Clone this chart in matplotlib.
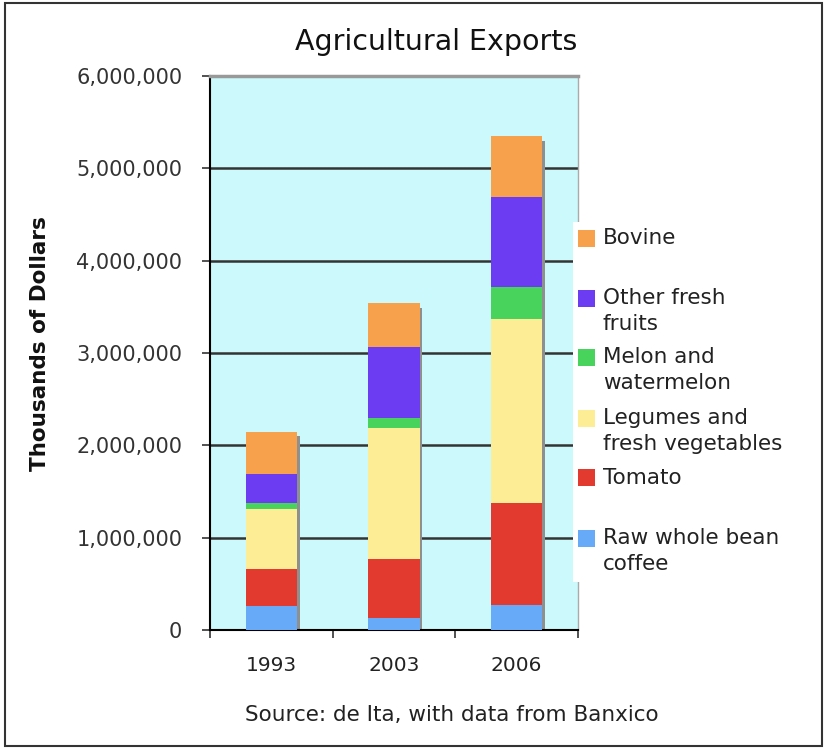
import matplotlib
matplotlib.use("Agg")
import matplotlib.pyplot as plt
from matplotlib.patches import Rectangle
from matplotlib.ticker import FuncFormatter, FixedLocator
import numpy as np

# ------------------------------------------------------------------ data (thousands of USD)
years = ["1993", "2003", "2006"]
coffee = [260000, 127000, 271000]
tomato = [401000, 642000, 1101000]
legumes = [646000, 1416000, 2000000]
melon = [72000, 108000, 346000]
other_fruits = [311000, 769000, 975000]
bovine = [458000, 476000, 657000]

# bottom -> top stacking order
series = [coffee, tomato, legumes, melon, other_fruits, bovine]
colors = ["#66aaf8", "#e23a2e", "#fdee96", "#48d45c", "#6c3cf2", "#f8a14c"]
labels = ["Raw whole bean\ncoffee", "Tomato", "Legumes and\nfresh vegetables",
          "Melon and\nwatermelon", "Other fresh\nfruits", "Bovine"]

W, H = 828, 750
fig = plt.figure(figsize=(W / 100, H / 100), dpi=100)
plt.rcParams["font.family"] = ["DejaVu Sans"]


def px(x, y):
    """pixel (from top-left) -> figure fraction"""
    return x / W, 1 - y / H


x0, y0 = px(210, 630)
x1, y1 = px(578, 76)
ax = fig.add_axes([x0, y0, x1 - x0, y1 - y0])
ax.set_facecolor("#ccf9fb")

x = np.arange(len(years))
width = 0.42
totals = np.sum(series, axis=0)

# depth shadow behind each stack
ax.bar(x + 0.022, totals - 50000, width, color="#8f8f8f", zorder=2)

bottom = np.zeros(len(years))
for vals, col in zip(series, colors):
    ax.bar(x, vals, width, bottom=bottom, color=col, zorder=3, linewidth=0)
    bottom += vals

ax.set_xlim(-0.5, 2.5)
ax.set_ylim(0, 6000000)
ax.set_yticks(np.arange(0, 6000001, 1000000))
ax.yaxis.set_major_formatter(FuncFormatter(lambda v, _: f"{v:,.0f}"))
ax.yaxis.grid(True, color="#333333", lw=1.8, zorder=1)
ax.set_axisbelow(True)

ax.set_xticks(x)
ax.set_xticklabels(years)
ax.xaxis.set_minor_locator(FixedLocator([-0.5, 0.5, 1.5, 2.5]))
ax.tick_params(axis="x", which="major", length=0, pad=19, labelsize=14.5,
               labelcolor="#222222")
ax.tick_params(axis="x", which="minor", length=6, width=1.2, direction="out",
               color="#333333")
ax.tick_params(axis="y", length=6, width=1.2, direction="out", pad=14,
               labelsize=15, labelcolor="#333333", color="#333333")

for side in ("left", "bottom"):
    ax.spines[side].set_color("black")
    ax.spines[side].set_linewidth(1.5)
ax.spines["top"].set_color("#999999")
ax.spines["top"].set_linewidth(2.5)
ax.spines["right"].set_color("#aaaaaa")
ax.spines["right"].set_linewidth(1.0)

# titles and notes
fig.text(*px(436, 42), "Agricultural Exports", ha="center", va="center",
         fontsize=20.5, color="#111111")
fig.text(*px(40, 344), "Thousands of Dollars", ha="center", va="center",
         rotation=90, fontsize=15.5, fontweight="bold", color="#111111")
fig.text(*px(452, 715), "Source: de Ita, with data from Banxico",
         ha="center", va="center", fontsize=15.5, color="#222222")

# legend box, drawn by hand (top entry = top of stack)
lx, ly = px(573, 582)
lw_, lh_ = 820 / W - lx, (582 - 222) / H
fig.add_artist(Rectangle((lx, ly), lw_, lh_, transform=fig.transFigure,
                         facecolor="white", edgecolor="none", zorder=5))
entry_y = [538, 478, 418, 357, 298, 238]
for lab, col, ey in zip(labels, colors, entry_y):
    fig.add_artist(Rectangle(px(578, ey + 8.5), 17 / W, 17 / H,
                             transform=fig.transFigure, facecolor=col,
                             edgecolor="none", zorder=6))
    fig.text(*px(603, ey - 10), lab, ha="left", va="top", fontsize=15.5,
             linespacing=1.4, color="#222222", zorder=7)

# outer frame
fig.add_artist(Rectangle(px(5, 746), 817 / W, 743 / H, transform=fig.transFigure,
                         facecolor="none", edgecolor="#333333", lw=1.5, zorder=8))

fig.savefig("out.png", dpi=100)
